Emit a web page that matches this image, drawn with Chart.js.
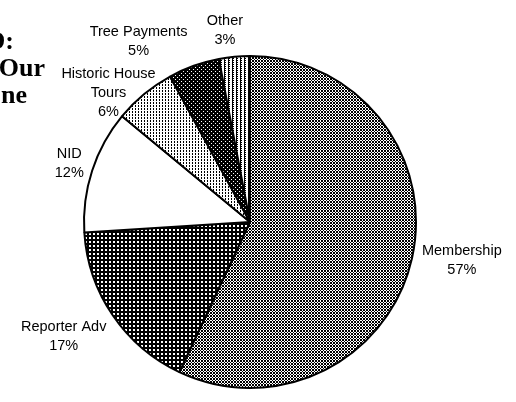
<!DOCTYPE html>
<html lang="en">
<head>
  <meta charset="UTF-8">
  <title>Sources of Funds</title>
  <script src="https://cdn.jsdelivr.net/npm/chart.js"></script>
  <style>
    body {
      margin: 0;
      background: #ffffff;
      overflow: hidden;
    }
    .wrap {
      position: relative;
      width: 516px;
      height: 402px;
    }
    .side {
      position: absolute;
      left: -200px;
      top: 27px;
      width: 214px;
      font-family: 'Liberation Serif', 'Times New Roman', serif;
      font-weight: bold;
      font-size: 26px;
      line-height: 27px;
      text-align: right;
      color: #000;
    }
    .side div { white-space: nowrap; }
  </style>
</head>
<body>
  <div class="wrap">
    <canvas id="fundsPie"></canvas>
    <div class="side">
      <div>D:</div>
      <div style="margin-right:-31px">Our</div>
      <div style="margin-right:-13px">ne</div>
    </div>
  </div>

  <script>
    const categories = ['Membership', 'Reporter Adv', 'NID', 'Historic House Tours', 'Tree Payments', 'Other'];
    const shares = [57, 17, 12, 6, 5, 3];
    const labelLines = [['Membership'], ['Reporter Adv'], ['NID'], ['Historic House', 'Tours'], ['Tree Payments'], ['Other']];

    // label placement: distance past the rim, then a small nudge
    const labelGap = [49, 52, 24, 23, 42, 26];
    const labelNudge = [[2, -8], [-6, -8], [0, 0], [-21, 17], [-41, 15], [-7, 0]];

    // little bitmap tiles to mimic the printed halftone fills
    function makePattern(rows) {
      const c = document.createElement('canvas');
      c.width = rows[0].length;
      c.height = rows.length;
      const g = c.getContext('2d');
      g.fillStyle = '#fff';
      g.fillRect(0, 0, c.width, c.height);
      g.fillStyle = '#000';
      rows.forEach((r, y) => {
        for (let x = 0; x < r.length; x++) {
          if (r[x] === '#') g.fillRect(x, y, 1, 1);
        }
      });
      return g.createPattern(c, 'repeat');
    }

    const fills = [
      makePattern(['##.', '##.', '..#']),
      makePattern(['####', '#..#', '#..#', '####']),
      '#ffffff',
      makePattern(['#..', '#..', '...']),
      makePattern(['####', '#.##', '####', '###.']),
      makePattern(['##..', '#...', '##..', '#...'])
    ];

    const sliceLabels = {
      id: 'sliceLabels',
      afterDatasetsDraw(chart) {
        const ctx = chart.ctx;
        const meta = chart.getDatasetMeta(0);
        ctx.save();
        ctx.fillStyle = '#000';
        ctx.font = '14.5px "Liberation Sans", Arial, sans-serif';
        ctx.textAlign = 'center';
        ctx.textBaseline = 'middle';
        meta.data.forEach((arc, i) => {
          const p = arc.getProps(['x', 'y', 'startAngle', 'endAngle', 'outerRadius'], true);
          const mid = (p.startAngle + p.endAngle) / 2;
          const r = p.outerRadius + labelGap[i];
          const cx = p.x + Math.cos(mid) * r + labelNudge[i][0];
          const cy = p.y + Math.sin(mid) * r + labelNudge[i][1];
          const lines = labelLines[i].concat([shares[i] + '%']);
          const lh = 19;
          const top = cy - (lines.length - 1) * lh / 2;
          lines.forEach((t, k) => ctx.fillText(t, cx, top + k * lh));
        });
        ctx.restore();
      }
    };

    new Chart(document.getElementById('fundsPie'), {
      type: 'pie',
      data: {
        labels: categories,
        datasets: [{
          data: shares,
          backgroundColor: fills,
          borderColor: '#000',
          borderWidth: 2
        }]
      },
      options: {
        responsive: true,
        maintainAspectRatio: false,
        animation: false,
        layout: { padding: { left: 83, right: 99, top: 55, bottom: 13 } },
        plugins: {
          legend: { display: false },
          tooltip: { enabled: false }
        }
      },
      plugins: [sliceLabels]
    });
  </script>
</body>
</html>
